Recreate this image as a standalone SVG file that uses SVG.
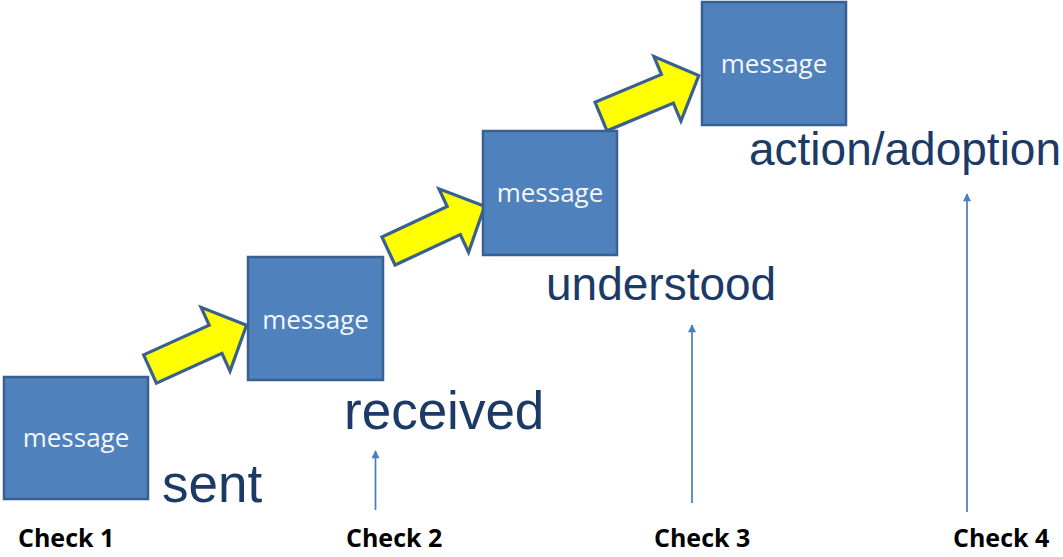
<svg xmlns="http://www.w3.org/2000/svg" width="1063" height="557" viewBox="0 0 1063 557">
  <style>
    .box { fill: #4F81BD; stroke: #3A6092; stroke-width: 2.5; }
    .msg { font-family: "Open Sans", "Liberation Sans", sans-serif; font-size: 26px; fill: #F4F6FA; text-anchor: middle; }
    .stage { font-family: "Liberation Sans", Arial, sans-serif; fill: #1B3A66; }
    .check { font-family: "Open Sans", "Liberation Sans", sans-serif; font-weight: bold; font-size: 25px; fill: #000; }
    .step { fill: #FFFF00; stroke: #3A6092; stroke-width: 3.2; stroke-linejoin: miter; }
    .up { stroke: #4A7EBB; stroke-width: 1.7; fill: none; }
  </style>
  <defs>
    <marker id="upHead" viewBox="0 0 10 10" refX="9" refY="5" markerWidth="9" markerHeight="8" markerUnits="userSpaceOnUse" orient="auto">
      <path d="M0,0 L10,5 L0,10 Z" fill="#4A7EBB"/>
    </marker>
    <path id="blockArrow" d="M0,-15.5 L72,-15.5 L72,-35 L106,0 L72,35 L72,15.5 L0,15.5 Z"/>
  </defs>

  <rect width="1063" height="557" fill="#FFFFFF"/>

  <!-- connectors: yellow step arrows and the check pointers -->
  <g id="connectors">
    <use href="#blockArrow" class="step" transform="translate(150,369) rotate(-24.4)"/>
    <use href="#blockArrow" class="step" transform="translate(388.5,251) rotate(-25)"/>
    <use href="#blockArrow" class="step" transform="translate(601,116.5) rotate(-22.7)"/>
    <line class="up" x1="375.5" y1="510" x2="375.5" y2="451" marker-end="url(#upHead)"/>
    <line class="up" x1="692" y1="503" x2="692" y2="325" marker-end="url(#upHead)"/>
    <line class="up" x1="967" y1="512" x2="967" y2="194" marker-end="url(#upHead)"/>
  </g>

  <g id="node-sent">
    <rect class="box" x="4" y="377" width="144" height="122"/>
    <text class="msg" x="76" y="447">message</text>
    <text class="stage" x="162" y="502" font-size="53">sent</text>
  </g>

  <g id="node-received">
    <rect class="box" x="248" y="257" width="135" height="123"/>
    <text class="msg" x="315.5" y="329">message</text>
    <text class="stage" x="344" y="429" font-size="53">received</text>
  </g>

  <g id="node-understood">
    <rect class="box" x="483" y="131" width="134" height="124"/>
    <text class="msg" x="550" y="202">message</text>
    <text class="stage" x="546" y="300" font-size="46">understood</text>
  </g>

  <g id="node-adoption">
    <rect class="box" x="702" y="2" width="144" height="123"/>
    <text class="msg" x="774" y="73">message</text>
    <text class="stage" x="749" y="165" font-size="46">action/adoption</text>
  </g>

  <g id="checks">
    <text class="check" x="18" y="547">Check 1</text>
    <text class="check" x="346" y="547">Check 2</text>
    <text class="check" x="654" y="547">Check 3</text>
    <text class="check" x="953" y="547">Check 4</text>
  </g>
</svg>
